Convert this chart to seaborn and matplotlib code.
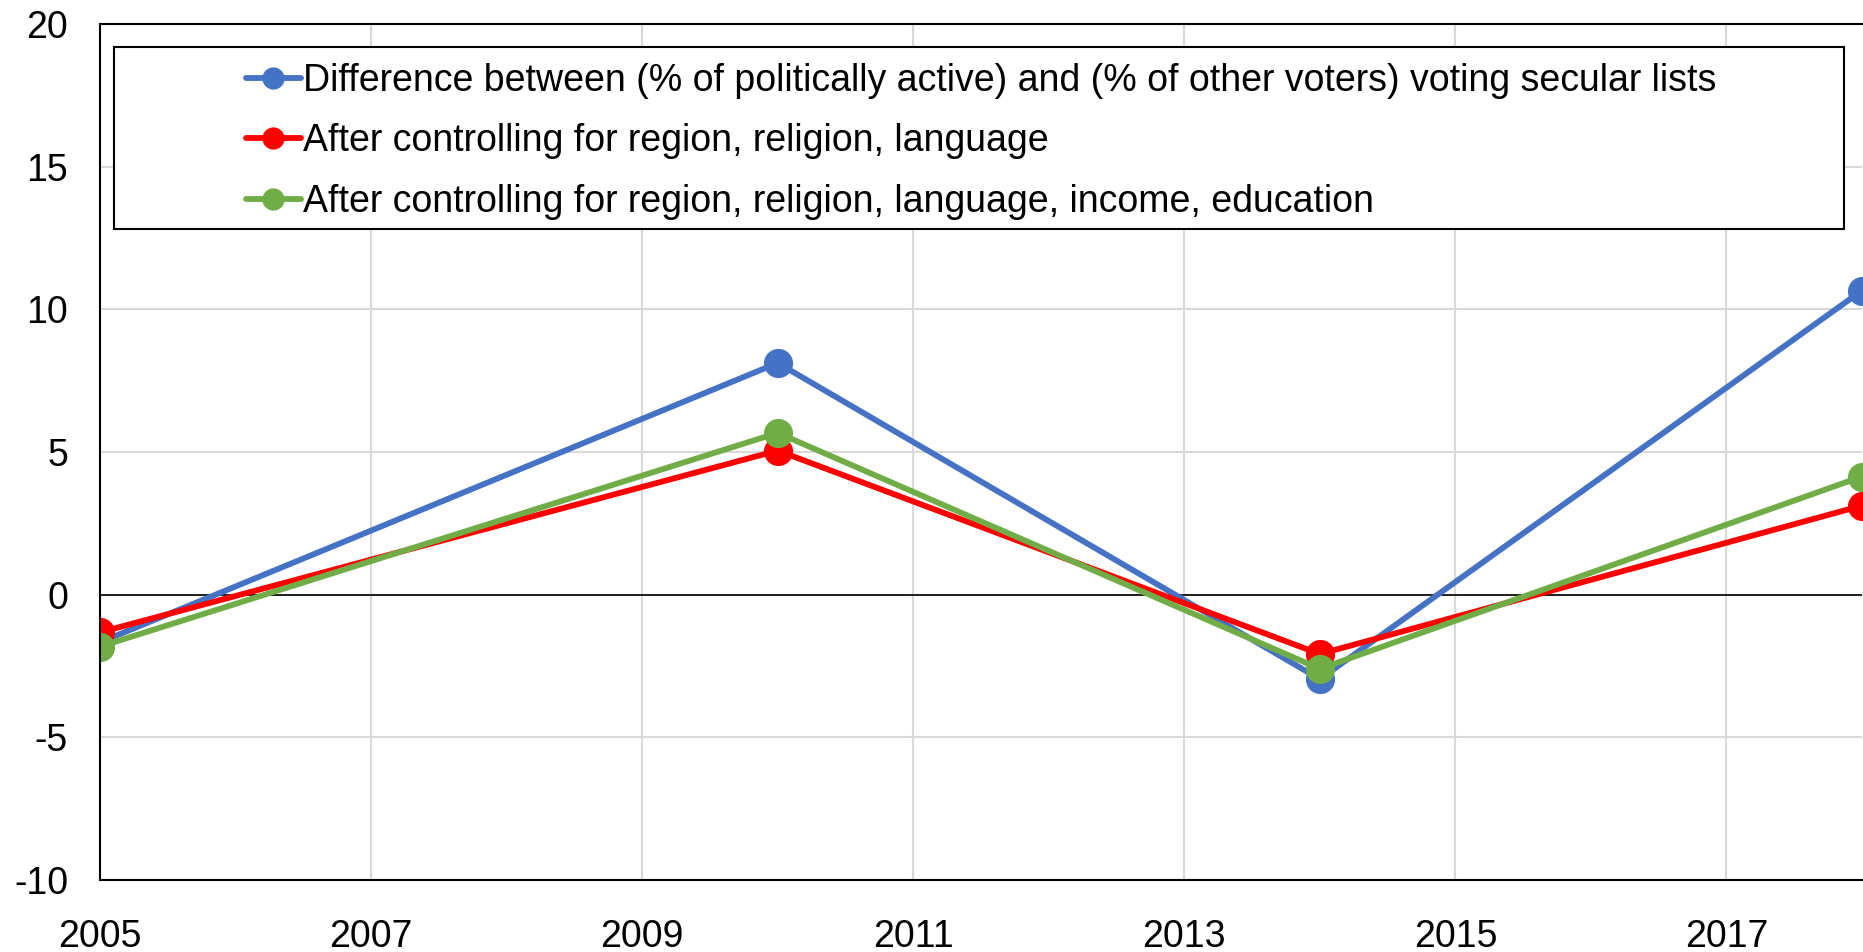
import pandas as pd
import matplotlib
matplotlib.use("Agg")
import matplotlib.pyplot as plt
import seaborn as sns
from matplotlib.patches import Rectangle

# === data ===
years = [2005, 2010, 2014, 2018]
diff_raw = [-1.67, 8.12, -2.96, 10.66]
ctrl_region = [-1.32, 5.05, -2.08, 3.12]
ctrl_full = [-1.82, 5.67, -2.60, 4.14]

labels = [
    "Difference between (% of politically active) and (% of other voters) voting secular lists",
    "After controlling for region, religion, language",
    "After controlling for region, religion, language, income, education",
]
colors = ["#4472C4", "#FF0000", "#70AD47"]

df = pd.DataFrame({
    "year": years * 3,
    "value": diff_raw + ctrl_region + ctrl_full,
    "series": [labels[0]] * 4 + [labels[1]] * 4 + [labels[2]] * 4,
})

# === plotting ===
sns.set_style("white")
plt.rcParams["font.family"] = ["Liberation Sans", "DejaVu Sans"]
plt.rcParams["axes.unicode_minus"] = False

fig = plt.figure(figsize=(18.63, 9.52), dpi=100)
ax = fig.add_axes([100 / 1863, 72 / 952, 1762 / 1863, 856 / 952])

sns.lineplot(data=df, x="year", y="value", hue="series", palette=colors,
             marker="o", markersize=21, markeredgewidth=0, linewidth=4.2,
             ax=ax, legend=False)

ax.set_xlim(2005, 2018)
ax.set_ylim(-10, 20)
ax.set_xticks(range(2005, 2018, 2))
ax.set_yticks(range(-10, 21, 5))
ax.set_xlabel("")
ax.set_ylabel("")
ax.tick_params(axis="x", length=0, pad=28, labelsize=27, labelcolor="black")
ax.tick_params(axis="y", length=0, pad=23, labelsize=27, labelcolor="black")
ax.grid(True, color="#d9d9d9", linewidth=1.5)
ax.set_axisbelow(True)
ax.axhline(0, color="black", linewidth=1.2, zorder=1.5)
for side in ["left", "bottom", "top"]:
    ax.spines[side].set_color("black")
    ax.spines[side].set_linewidth(1.5)
ax.spines["right"].set_visible(False)

# legend: centred entries in a full-width framed box
handles = [plt.Line2D([], [], color=c, linewidth=4.2, marker="o", markersize=16,
                      markeredgewidth=0) for c in colors]
ax.legend(handles, labels, loc="center", bbox_to_anchor=(0.5, 0.8628),
          frameon=False, fontsize=27, handlelength=1.46, handletextpad=0.05,
          labelspacing=0.66, labelcolor="black")
ax.add_patch(Rectangle((14 / 1762, 1 - 205 / 856), 1730 / 1762, 182 / 856,
                       transform=ax.transAxes, fill=True, facecolor="white",
                       edgecolor="black", linewidth=1.5, zorder=4))
ax.get_legend().set_zorder(5)

plt.savefig("out.png", dpi=100)
